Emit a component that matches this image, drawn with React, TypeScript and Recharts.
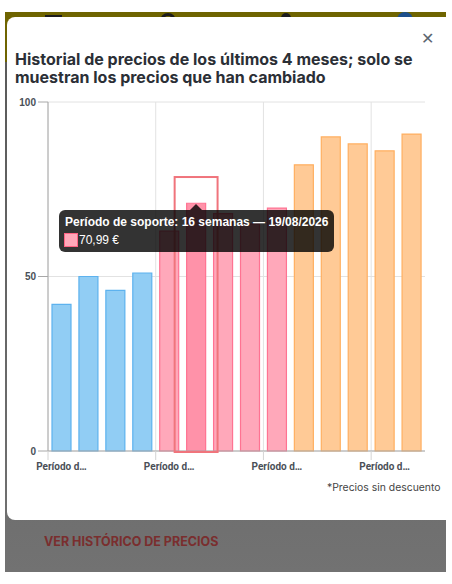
import React from 'react';
import {
  ComposedChart,
  Bar,
  Cell,
  XAxis,
  YAxis,
  CartesianGrid,
  ReferenceArea,
  Tooltip,
} from 'recharts';

// one entry per support period, the tick text is cut off in the picture
const periods = [1, 2, 3, 4, 5, 6, 7, 8, 9, 10, 11, 12, 13, 14];
const prices = [42, 50, 46, 51, 63, 70.99, 68, 65, 69.6, 82, 90, 88, 86, 90.8];
const groups = ['blue', 'blue', 'blue', 'blue', 'pink', 'pink', 'pink', 'pink', 'pink', 'orange', 'orange', 'orange', 'orange', 'orange'];
const yTicks = [0, 50, 100];
const xTickLabel = 'Período d…';
const activePeriod = 6;
const activeBoxTop = 78.5;
const tooltipTitle = 'Período de soporte: 16 semanas — 19/08/2026';
const tooltipValue = '70,99 €';

const COLORS: Record<string, { fill: string; stroke: string }> = {
  blue: { fill: '#91cdf4', stroke: '#5db2ee' },
  pink: { fill: '#ffa8ba', stroke: '#ff7392' },
  orange: { fill: '#ffca96', stroke: '#ffaf60' },
};

const data = periods.map((period, i) => ({ period, price: prices[i], group: groups[i] }));

const band = 377 / periods.length;

function XTick({ x, y }: any) {
  return (
    <g>
      <line x1={x - band / 2} x2={x - band / 2} y1={y - 8} y2={y + 1} stroke="#d4d4d4" />
      <text x={x} y={y + 11} textAnchor="middle" fontSize={10} fontWeight={700} fill="#4a4f57" fontFamily="Roboto, sans-serif">
        {xTickLabel}
      </text>
    </g>
  );
}

function ActiveBox({ x, y, width, height }: any) {
  return (
    <rect x={x - 8} y={y} width={width + 16} height={height + 1} fill="none" stroke="#f0747c" strokeWidth={2} />
  );
}

function PriceTooltip() {
  return (
    <div style={{ position: 'relative', width: 275, height: 42, background: 'rgba(0,0,0,0.8)', borderRadius: 6, color: '#fff', fontFamily: '"Liberation Sans", sans-serif', fontSize: 12 }}>
      <div style={{ position: 'absolute', left: 131, top: -6, width: 0, height: 0, borderLeft: '6px solid transparent', borderRight: '6px solid transparent', borderBottom: '6px solid rgba(0,0,0,0.8)' }} />
      <div style={{ position: 'absolute', left: 6, top: 5, fontWeight: 700, whiteSpace: 'nowrap' }}>{tooltipTitle}</div>
      <div style={{ position: 'absolute', left: 5, top: 23, width: 12, height: 12, background: COLORS.pink.fill, border: '1px solid #ff6384' }} />
      <div style={{ position: 'absolute', left: 20, top: 23, whiteSpace: 'nowrap' }}>{tooltipValue}</div>
    </div>
  );
}

export default function App() {
  return (
    <div style={{ position: 'absolute', left: 0, top: 0, width: 452, height: 584, overflow: 'hidden', background: '#fff' }}>
      {/* page behind the dialog */}
      <div style={{ position: 'absolute', left: 5, top: 12, width: 441, height: 50, background: '#6f6400' }} />
      <div style={{ position: 'absolute', left: 5, top: 62, width: 441, height: 510, background: 'linear-gradient(#5a5a5a, #727272)' }} />
      <div style={{ position: 'absolute', left: 45, top: 15, width: 17, height: 3, background: '#1c1c1c' }} />
      <div style={{ position: 'absolute', left: 160, top: 13, width: 10, height: 10, border: '3px solid #1c1c1c', borderRadius: '50%' }} />
      <div style={{ position: 'absolute', left: 281, top: 13, width: 10, height: 10, background: '#1c1c1c', borderRadius: '50%' }} />
      <div style={{ position: 'absolute', left: 397, top: 12, width: 16, height: 16, background: '#1d4f8c', borderRadius: '50%' }} />
      <div style={{ position: 'absolute', left: 44, top: 534, fontFamily: 'Inter, sans-serif', fontWeight: 700, fontSize: 12.5, color: '#7a2e2e', whiteSpace: 'nowrap' }}>
        VER HISTÓRICO DE PRECIOS
      </div>

      {/* dialog */}
      <div style={{ position: 'absolute', left: 7, top: 17, width: 445, height: 503, background: '#fff', borderRadius: '8px 0 0 8px' }} />
      <div style={{ position: 'absolute', left: 15, top: 50, width: 425, fontFamily: 'Inter, sans-serif', fontWeight: 700, fontSize: 16, lineHeight: '18px', color: '#2b2f36' }}>
        Historial de precios de los últimos 4 meses; solo se muestran los precios que han cambiado
      </div>
      <div style={{ position: 'absolute', left: 421, top: 29, fontFamily: '"DejaVu Sans", sans-serif', fontSize: 16, color: '#5b6570' }}>✕</div>
      <div style={{ position: 'absolute', left: 327, top: 481, fontFamily: 'Inter, sans-serif', fontSize: 10.4, color: '#444', whiteSpace: 'nowrap' }}>
        *Precios sin descuento
      </div>

      <div style={{ position: 'absolute', left: 0, top: 90 }}>
        <ComposedChart width={452} height={390} data={data} margin={{ top: 12, right: 27, left: 0, bottom: 0 }}>
          <CartesianGrid
            stroke="#e2e2e2"
            verticalCoordinatesGenerator={({ offset }: any) =>
              [0, 4, 8, 12].map((i) => offset.left + i * (offset.width / periods.length))
            }
          />
          <XAxis
            dataKey="period"
            interval={3}
            height={29}
            tickLine={false}
            stroke="#a8a8a8"
            tick={<XTick />}
          />
          <YAxis
            width={48}
            domain={[0, 100]}
            ticks={yTicks}
            tickSize={10}
            stroke="#a8a8a8"
            tick={{ fontSize: 10, fontWeight: 700, fill: '#4a4f57', fontFamily: '"Liberation Sans", sans-serif' }}
          />
          <Bar dataKey="price" barSize={19} strokeWidth={1.2} isAnimationActive={false}>
            {data.map((d) => (
              <Cell
                key={d.period}
                fill={d.period === activePeriod ? '#ff92a9' : COLORS[d.group].fill}
                stroke={COLORS[d.group].stroke}
              />
            ))}
          </Bar>
          <ReferenceArea x1={activePeriod} x2={activePeriod} y1={0} y2={activeBoxTop} zIndex={500} shape={<ActiveBox />} />
          <Tooltip
            active
            defaultIndex={activePeriod - 1}
            cursor={false}
            isAnimationActive={false}
            position={{ x: 59, y: 120 }}
            allowEscapeViewBox={{ x: true, y: true }}
            content={<PriceTooltip />}
          />
        </ComposedChart>
      </div>
    </div>
  );
}
